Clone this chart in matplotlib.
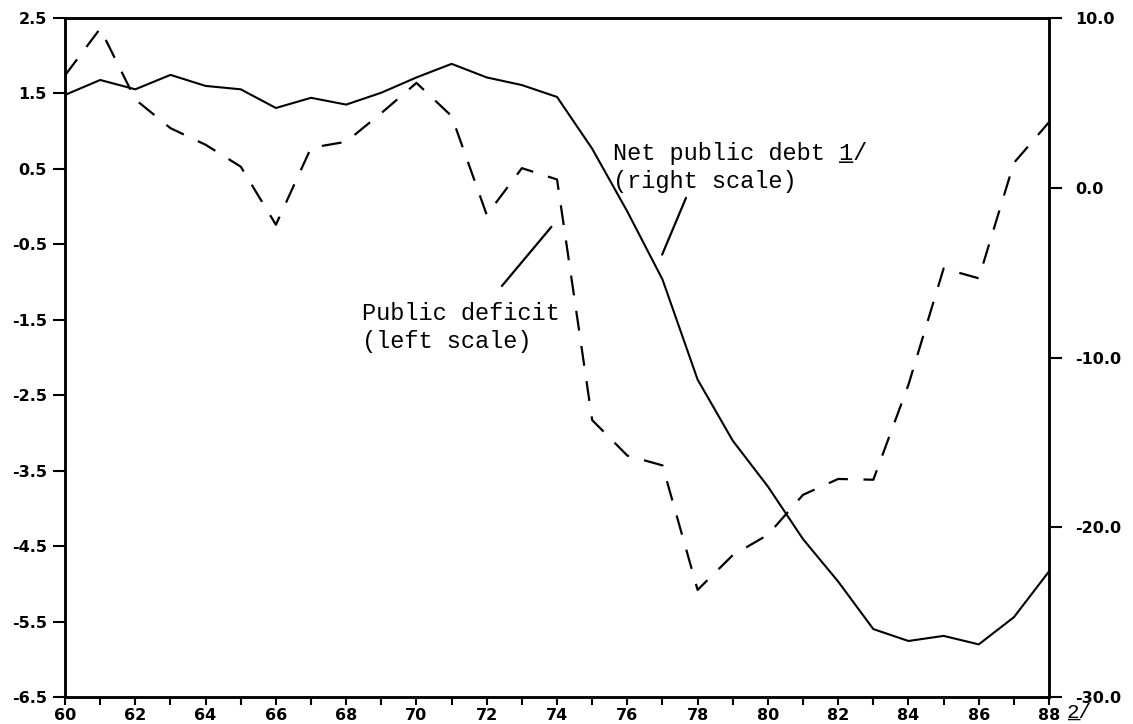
import matplotlib
matplotlib.use('Agg')
import matplotlib.pyplot as plt

# --- data ---
years = list(range(1960, 1989))
deficit = [1.74, 2.36, 1.42, 1.04, 0.82, 0.53, -0.24, 0.78, 0.86, 1.24,
           1.64, 1.20, -0.11, 0.51, 0.36, -2.83, -3.30, -3.43, -5.08, -4.62,
           -4.35, -3.82, -3.61, -3.62, -2.36, -0.82, -0.95, 0.58, 1.12]
net_debt = [5.47, 6.35, 5.8, 6.65, 6.0, 5.8, 4.7, 5.3, 4.9, 5.6,
            6.5, 7.3, 6.5, 6.05, 5.35, 2.3, -1.4, -5.4, -11.3, -14.9,
            -17.6, -20.7, -23.2, -26.0, -26.7, -26.4, -26.9, -25.3, -22.6]

left_ticks = [2.5, 1.5, 0.5, -0.5, -1.5, -2.5, -3.5, -4.5, -5.5, -6.5]
right_ticks = [10, 0, -10, -20, -30]
x_label_years = list(range(1960, 1989, 2))

tick_font = {'family': 'DejaVu Sans', 'weight': 'bold', 'size': 11.5}
note_font = 'Liberation Mono'

fig = plt.figure(figsize=(11.33, 7.24), dpi=100)
ax = fig.add_axes([0.0574, 0.0373, 0.9259 - 0.0574, 0.9751 - 0.0373])
ax2 = ax.twinx()

ax.plot(years, deficit, color='black', linewidth=1.6, linestyle=(0, (9, 7)))
ax2.plot(years, net_debt, color='black', linewidth=1.5)

ax.set_xlim(1960, 1988)
ax.set_ylim(-6.5, 2.5)
ax2.set_ylim(-30, 10)

ax.set_xticks(years, minor=True)
ax.set_xticks(x_label_years)
ax.set_xticklabels([str(y)[2:] for y in x_label_years], fontdict=tick_font)
ax.set_yticks(left_ticks)
ax.set_yticklabels([f'{v:.1f}' for v in left_ticks], fontdict=tick_font)
ax2.set_yticks(right_ticks)
ax2.set_yticklabels([f'{v:.1f}' for v in right_ticks], fontdict=tick_font)

ax.tick_params(axis='x', which='both', direction='out', length=6, width=1.5, pad=2)
ax.tick_params(axis='y', direction='out', length=9, width=1.5, pad=4)
ax2.tick_params(axis='y', direction='out', length=9, width=1.5, pad=10)

for a in (ax, ax2):
    for s in a.spines.values():
        s.set_linewidth(1.8)

# annotations
ax.text(1975.6, 0.86, 'Net public debt 1/\n(right scale)', family=note_font,
        size=17, va='top', ha='left', linespacing=1.3)
ax.text(1975.6, 0.86, '                _\n ', family=note_font,
        size=17, va='top', ha='left', linespacing=1.3)
ax.annotate('', xy=(1976.96, -0.67), xytext=(1977.7, 0.15),
            arrowprops=dict(arrowstyle='-', color='black', lw=1.6))

ax.text(1968.45, -1.26, 'Public deficit\n(left scale)', family=note_font,
        size=17, va='top', ha='left', linespacing=1.3)
ax.annotate('', xy=(1972.38, -1.08), xytext=(1973.89, -0.24),
            arrowprops=dict(arrowstyle='-', color='black', lw=1.6))

# footnote marker after last year
ax.text(1988.5, -6.58, '2/', family=note_font, size=15, va='top', ha='left',
        clip_on=False)
ax.text(1988.5, -6.58, '_', family=note_font, size=15, va='top', ha='left',
        clip_on=False)

fig.savefig('out.png', dpi=100)
